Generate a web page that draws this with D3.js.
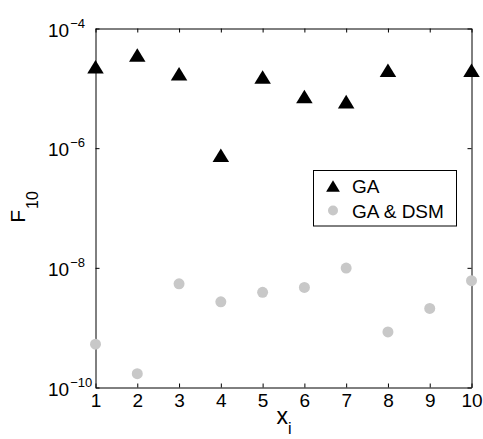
<!DOCTYPE html>
<html><head><meta charset="utf-8">
<script src="https://cdn.jsdelivr.net/npm/d3@7"></script>
<style>
body{margin:0;background:#fff}
svg{display:block}
text{font-family:"Liberation Sans",Arial,Helvetica,sans-serif;fill:#000}
</style>
</head><body>
<svg id="chart" width="483" height="439"></svg>
<script>
// ---- data ----
const xValues = [1, 2, 3, 4, 5, 6, 7, 8, 9, 10];
const gaValues = [2.3e-5, 3.6e-5, 1.75e-5, 7.6e-7, 1.55e-5, 7.3e-6, 6.0e-6, 2.0e-5, null, 2.0e-5];
const gaDsmValues = [5.3e-10, 1.7e-10, 5.4e-9, 2.7e-9, 3.9e-9, 4.7e-9, 9.9e-9, 8.5e-10, 2.1e-9, 6.1e-9];
const xTicks = [1, 2, 3, 4, 5, 6, 7, 8, 9, 10];
const yTicks = [1e-10, 1e-8, 1e-6, 1e-4];
const yTickBase = "10";
const yTickExponents = ["\u221210", "\u22128", "\u22126", "\u22124"];
const seriesNames = ["GA", "GA & DSM"];
const seriesColors = ["#000000", "#c8c8c8"];

// ---- layout ----
const W = 483, H = 439;
const L = 95.5, R = 471.5, T = 28.5, B = 387.5;
const svg = d3.select("#chart");

const x = d3.scaleLinear().domain([1, 10]).range([L, R]);
const y = d3.scaleLog().domain([1e-10, 1e-4]).range([B, T]);

// custom triangle (apex up, centered on bounding box)
const triType = {
  draw(ctx, size) {
    const w = Math.sqrt(size / 0.41), h = 0.82 * w;
    ctx.moveTo(0, -h / 2);
    ctx.lineTo(w / 2, h / 2);
    ctx.lineTo(-w / 2, h / 2);
    ctx.closePath();
  }
};

// ---- axes ----
const fs = 19;
const gx = svg.append("g").attr("transform", `translate(0,${B})`)
  .call(d3.axisBottom(x).tickValues(xTicks).tickFormat(d3.format("d")).tickSize(-4).tickSizeOuter(0).tickPadding(6.5));
const gxt = svg.append("g").attr("transform", `translate(0,${T})`)
  .call(d3.axisTop(x).tickValues(xTicks).tickFormat("").tickSize(-4).tickSizeOuter(0));
const gy = svg.append("g").attr("transform", `translate(${L},0)`)
  .call(d3.axisLeft(y).tickValues(yTicks).tickSize(-4).tickSizeOuter(0));
const gyr = svg.append("g").attr("transform", `translate(${R},0)`)
  .call(d3.axisRight(y).tickValues(yTicks).tickFormat("").tickSize(-4).tickSizeOuter(0));

[gx, gxt, gy, gyr].forEach(g => {
  g.selectAll("path.domain").attr("stroke", "#000").attr("stroke-width", 1);
  g.selectAll(".tick line").attr("stroke", "#000").attr("stroke-width", 1);
  g.selectAll("text").attr("font-size", fs).attr("font-family", null).attr("fill", "#000");
});

gy.selectAll(".tick text").each(function(d, i) {
  const t = d3.select(this);
  t.text(null).attr("text-anchor", "start").attr("x", 48 - L).attr("dy", null).attr("y", 7.5);
  t.append("tspan").text(yTickBase);
  t.append("tspan").attr("font-size", 13).attr("dy", -9).attr("dx", 1).text(yTickExponents[yTicks.indexOf(d)]);
});

// ---- axis labels ----
const xl = svg.append("text").attr("x", 284).attr("y", 424).attr("text-anchor", "middle").attr("font-size", 23);
xl.append("tspan").text("x");
xl.append("tspan").attr("font-size", 16).attr("dy", 10).text("i");

const yl = svg.append("text").attr("transform", "translate(25,207) rotate(-90)").attr("text-anchor", "middle").attr("font-size", 21);
yl.append("tspan").text("F");
yl.append("tspan").attr("font-size", 16).attr("dy", 13).attr("dx", 1).text("10");

// ---- data marks ----
const ga = xValues.map((v, i) => ({x: v, y: gaValues[i]})).filter(d => d.y != null);
const dsm = xValues.map((v, i) => ({x: v, y: gaDsmValues[i]})).filter(d => d.y != null);

svg.append("g").selectAll("circle").data(dsm).join("circle")
  .attr("cx", d => x(d.x)).attr("cy", d => y(d.y)).attr("r", 5.5)
  .attr("fill", seriesColors[1]);

svg.append("g").selectAll("path").data(ga).join("path")
  .attr("transform", d => `translate(${x(d.x)},${y(d.y)})`)
  .attr("d", d3.symbol(triType, 112))
  .attr("fill", seriesColors[0]);

// ---- legend ----
const lg = svg.append("g");
lg.append("rect").attr("x", 313.5).attr("y", 170.5).attr("width", 143).attr("height", 55.5)
  .attr("fill", "#fff").attr("stroke", "#000").attr("stroke-width", 1);
lg.append("path").attr("transform", "translate(333,186)").attr("d", d3.symbol(triType, 78)).attr("fill", seriesColors[0]);
lg.append("text").attr("x", 352).attr("y", 193).attr("font-size", fs).text(seriesNames[0]);
lg.append("circle").attr("cx", 333).attr("cy", 210.5).attr("r", 5).attr("fill", seriesColors[1]);
lg.append("text").attr("x", 352).attr("y", 218).attr("font-size", fs).text(seriesNames[1]);
</script>
</body></html>
